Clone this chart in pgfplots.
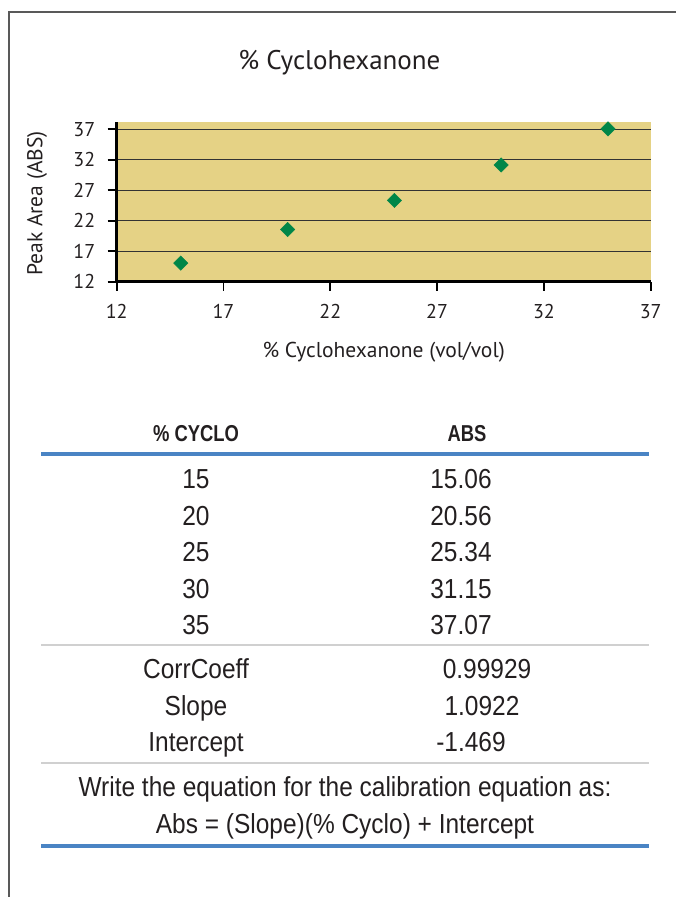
\documentclass[border=0pt]{standalone}
\usepackage{fontspec}
\usepackage{pgfplots}
\pgfplotsset{compat=1.18}
\setmainfont{PT Sans}
\newfontfamily\tabfont{Liberation Sans}[FakeStretch=0.89]
\newfontfamily\tabbold{Liberation Sans Bold}[FakeStretch=0.8]
\definecolor{tanfill}{RGB}{229,210,133}
\definecolor{mkgreen}{RGB}{0,134,72}
\definecolor{lineblue}{RGB}{74,132,196}
\definecolor{linegray}{RGB}{208,208,208}
\definecolor{txt}{RGB}{35,31,32}
\begin{document}
\begin{tikzpicture}[x=1pt,y=1pt]
\path[use as bounding box] (0,0) rectangle (676,897);
\draw[line width=1.5pt, black!65] (9,0) -- (9,{897-12}) -- (676,{897-12});
\begin{axis}[
  scale only axis, width=534pt, height=159.7pt,
  at={(116.7pt,615.3pt)}, anchor=south west,
  xmin=12, xmax=37, ymin=12, ymax=38.2,
  xtick={12,17,22,27,32,37}, ytick={12,17,22,27,32,37},
  axis x line*=bottom, axis y line*=left,
  axis line style={line width=2.5pt, -, black},
  tick align=outside, major tick length=9pt,
  tick style={line width=1.8pt, black},
  ymajorgrids, grid style={line width=0.9pt, black!80},
  axis background/.style={fill=tanfill},
  /pgf/number format/assume math mode=true,
  tick label style={font=\fontsize{20}{22}\selectfont, text=txt},
  xticklabel style={yshift=-10pt},
  yticklabel style={xshift=-9pt},
  title={\% Cyclohexanone},
  title style={at={(axis description cs:0.417,1.337)}, anchor=center, font=\fontsize{27}{30}\selectfont, text=txt},
  xlabel={\% Cyclohexanone (vol/vol)},
  xlabel style={at={(axis description cs:0.5,-0.44)}, anchor=center, font=\fontsize{21.5}{24}\selectfont, text=txt},
  ylabel={Peak Area (ABS)},
  ylabel style={at={(axis description cs:-0.149,0.49)}, anchor=center, font=\fontsize{21.5}{24}\selectfont, text=txt},
]
\addplot[only marks, mark=square*, mark size=5.1pt, color=mkgreen,
  mark options={rotate=45, fill=mkgreen, draw=mkgreen}]
  coordinates {(15,15.06) (20,20.56) (25,25.34) (30,31.15) (35,37.07)};
\end{axis}
% table
\begin{scope}[every node/.style={text=txt, inner sep=0pt, anchor=base}]
\node[font=\tabbold\fontsize{23}{26}\selectfont] at (196,{897-441.7}) {\% CYCLO};
\node[font=\tabbold\fontsize{23}{26}\selectfont] at (467,{897-441.7}) {ABS};
\draw[line width=3.5pt, lineblue] (41,{897-454}) -- (649,{897-454});
\foreach \a/\b/\y in {15/15.06/489, 20/20.56/525.7, 25/25.34/561.7, 30/31.15/599, 35/37.07/635}{
  \node[font=\tabfont\fontsize{27.5}{30}\selectfont] at (196,{897-\y}) {\a};
  \node[font=\tabfont\fontsize{27.5}{30}\selectfont] at (461,{897-\y}) {\b};
}
\draw[line width=2pt, linegray] (41,{897-645}) -- (649,{897-645});
\node[font=\tabfont\fontsize{27.5}{30}\selectfont] at (196,{897-678.3}) {CorrCoeff};
\node[font=\tabfont\fontsize{27.5}{30}\selectfont] at (487,{897-678.3}) {0.99929};
\node[font=\tabfont\fontsize{27.5}{30}\selectfont] at (196,{897-716}) {Slope};
\node[font=\tabfont\fontsize{27.5}{30}\selectfont] at (482,{897-716}) {1.0922};
\node[font=\tabfont\fontsize{27.5}{30}\selectfont] at (196,{897-751.7}) {Intercept};
\node[font=\tabfont\fontsize{27.5}{30}\selectfont] at (471,{897-751.7}) {-1.469};
\draw[line width=2pt, linegray] (41,{897-763}) -- (649,{897-763});
\node[font=\tabfont\fontsize{27.5}{30}\selectfont] at (345,{897-796.7}) {Write the equation for the calibration equation as:};
\node[font=\tabfont\fontsize{27.5}{30}\selectfont] at (345,{897-834}) {Abs = (Slope)(\% Cyclo) + Intercept};
\draw[line width=3.5pt, lineblue] (41,{897-846}) -- (649,{897-846});
\end{scope}
\end{tikzpicture}
\end{document}
